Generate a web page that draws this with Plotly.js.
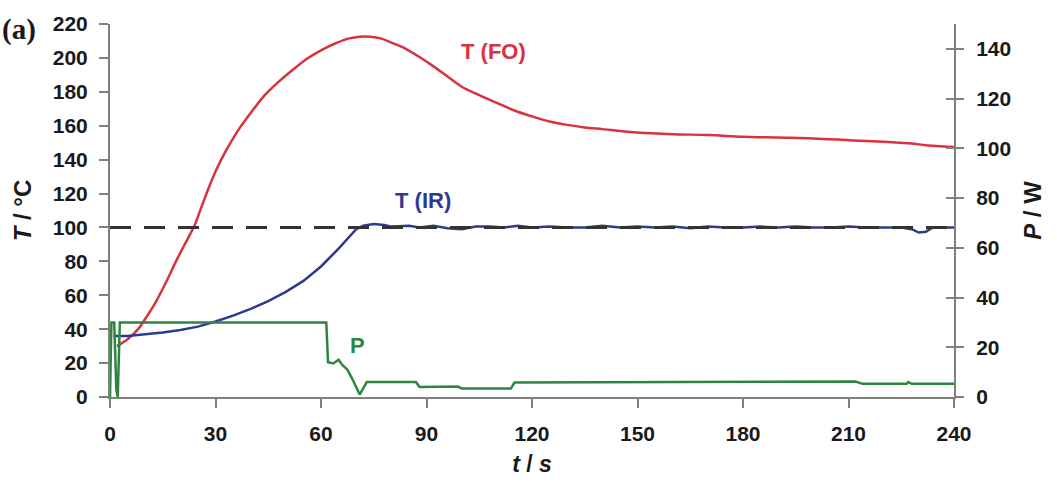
<!DOCTYPE html>
<html>
<head>
<meta charset="utf-8">
<script src="https://cdn.plot.ly/plotly-3.0.1.min.js"></script>
<style>html,body{margin:0;padding:0;background:#fff;}#chart{width:1057px;height:483px;}</style>
</head>
<body>
<div id="chart"></div>
<script>
// T (FO) - fibre optic temperature, °C
const tFO = [2,5,8,10,13,16,19,22,24,26,28,30,32,34,37,40,44,48,52,56,60,64,68,71,74,77,80,84,88,92,96,100,105,110,115,120,125,130,135,140,150,160,170,180,190,200,210,220,228,232,240];
const TFO = [30,34,40,46,56,68,81,93,101,112,123,133,141.5,149,159,167.5,178,186,193,199.5,204.5,208.5,211.5,212.5,212.5,211.5,209,205.5,200.5,195,189,183,178,173.5,169,165.5,162.5,160.5,159,158,156,155,154.5,153.5,153,152.5,151.5,150.5,149.5,148.5,147.5];
// T (IR) - infrared temperature, °C
const tIR = [1,5,10,15,20,25,30,35,40,45,50,55,60,65,70,72,75,78,80,85,88,92,96,100,104,108,112,116,120,125,130,135,140,145,150,155,160,165,170,175,180,185,190,195,200,205,210,215,220,225,228,230,232,234,240];
const TIR = [36,36,37,38,39.5,41.5,44.5,48,52,56.5,62,68.5,77,87.5,99,101,102,101.5,100.5,101,100,101,99.5,99,100.5,100.5,100,101,100,100.5,100,100,101,100,100.5,100,100.5,99.5,100.5,100,100,100.5,100,100.5,100,100,100.5,100,100,100,99,97,97.5,100,100];
// P - microwave power, W
const tP = [0,0.4,1.2,1.8,2.2,2.8,61.5,62,63.5,65,66,67.5,69,71,73,87,88,99,100,114,115,212,214,226.5,227,228,240];
const PW = [0,30,30,3,0,30,30,14,13.5,15,13,11,7,1,6,6,4,4.2,3.4,3.4,5.8,6.2,5.3,5.3,6,5.3,5.3];
// set-point
const setPoint = 100;
const xTicks = [0,30,60,90,120,150,180,210,240];
const yTicksL = [0,20,40,60,80,100,120,140,160,180,200,220];
const yTicksR = [0,20,40,60,80,100,120,140];

const fam = '"Liberation Sans", Arial, sans-serif';
const axisCol = '#808080';
const tickFont = {family: fam, size: 21, color: '#1a1a1a', weight: 'bold'};

const traces = [
  {x: tFO, y: TFO, type: 'scatter', mode: 'lines', line: {color: '#d9323d', width: 2.5, shape: 'spline', smoothing: 0.8}, yaxis: 'y', hoverinfo: 'skip'},
  {x: tIR, y: TIR, type: 'scatter', mode: 'lines', line: {color: '#2e3a8e', width: 2.5}, yaxis: 'y', hoverinfo: 'skip'},
  {x: tP, y: PW, type: 'scatter', mode: 'lines', line: {color: '#2e8540', width: 2.5}, yaxis: 'y2', hoverinfo: 'skip'},
  {x: [], y: [], type: 'scatter', mode: 'lines', yaxis: 'y3', hoverinfo: 'skip'}
];

const layout = {
  width: 1057, height: 483,
  margin: {l: 110, r: 103, t: 24, b: 86, pad: 0},
  paper_bgcolor: '#fff', plot_bgcolor: '#fff',
  showlegend: false,
  xaxis: {
    range: [0, 240], tickvals: xTicks, ticks: 'outside', ticklen: 9, tickwidth: 2, tickcolor: axisCol,
    showline: true, linecolor: axisCol, linewidth: 2, showgrid: false, zeroline: false,
    tickfont: tickFont, ticklabelstandoff: 8,
    title: {text: '<i>t</i> / <i>s</i>', font: {family: fam, size: 23, color: '#1a1a1a', weight: 'bold'}, standoff: 12}
  },
  yaxis: {
    range: [0, 220], tickvals: yTicksL, ticks: 'outside', ticklen: 9, tickwidth: 2, tickcolor: axisCol,
    showline: true, linecolor: axisCol, linewidth: 2, showgrid: false, zeroline: false,
    tickfont: tickFont, ticklabelstandoff: 7,
    title: {text: '<i>T</i> / °C', font: {family: fam, size: 24, color: '#1a1a1a', weight: 'bold'}, standoff: 14}
  },
  yaxis2: {
    range: [0, 150], tickvals: yTicksR, overlaying: 'y', side: 'right', anchor: 'x',
    ticks: 'outside', ticklen: 8, tickwidth: 2, tickcolor: axisCol,
    showline: true, linecolor: axisCol, linewidth: 2, showgrid: false, zeroline: false,
    tickfont: tickFont, ticklabelstandoff: 8,
    title: {text: '<i>P</i> / W', font: {family: fam, size: 24, color: '#1a1a1a', weight: 'bold'}, standoff: 14}
  },
  yaxis3: {
    range: [0, 150], tickvals: yTicksR, overlaying: 'y', side: 'right', anchor: 'x',
    ticks: 'inside', ticklen: 8, tickwidth: 2, tickcolor: axisCol,
    showline: false, showgrid: false, zeroline: false, showticklabels: false
  },
  shapes: [
    {type: 'line', xref: 'x', yref: 'y', x0: 0, x1: 240, y0: setPoint, y1: setPoint,
     line: {color: '#333333', width: 3, dash: '21px,13px'}}
  ],
  annotations: [
    {text: 'T (FO)', x: 109, y: 204, xref: 'x', yref: 'y', showarrow: false,
     font: {family: fam, size: 22, color: '#d9323d', weight: 'bold'}},
    {text: 'T (IR)', x: 89, y: 116, xref: 'x', yref: 'y', showarrow: false,
     font: {family: fam, size: 22, color: '#2e3a8e', weight: 'bold'}},
    {text: 'P', x: 70.4, y: 30.5, xref: 'x', yref: 'y', showarrow: false,
     font: {family: fam, size: 22, color: '#2e8540', weight: 'bold'}},
    {text: '(a)', x: -0.13, y: 0.985, xref: 'paper', yref: 'paper', xanchor: 'left', yanchor: 'middle', showarrow: false,
     font: {family: '"Liberation Serif", "Times New Roman", serif', size: 29, color: '#1a1a1a', weight: 'bold'}}
  ]
};

Plotly.newPlot('chart', traces, layout, {displayModeBar: false, staticPlot: true});
</script>
</body>
</html>
